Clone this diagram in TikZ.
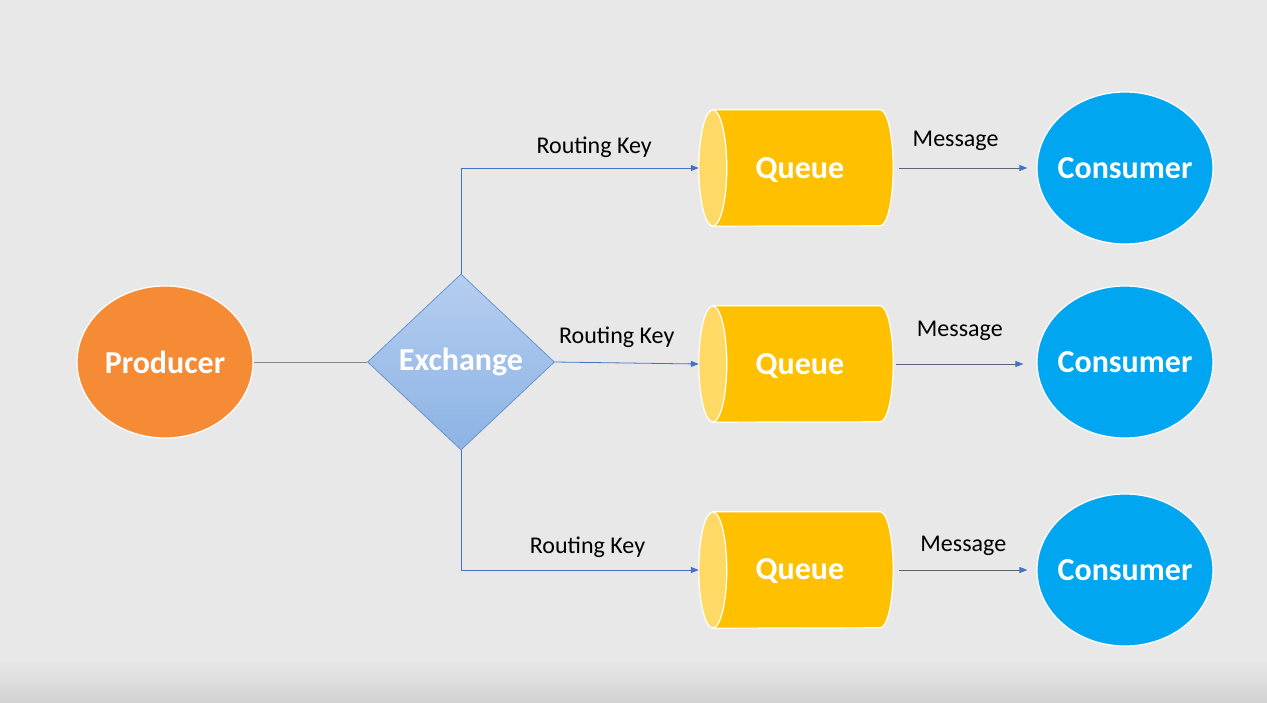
\documentclass[tikz,border=0pt]{standalone}
\usepackage{fontspec}
\setmainfont{Carlito}
\usetikzlibrary{shapes.geometric,arrows.meta}
\definecolor{bg}{HTML}{E8E8E8}
\definecolor{bgdark}{HTML}{D2D2D2}
\definecolor{prodorange}{HTML}{F58B34}
\definecolor{consblue}{HTML}{00A6F0}
\definecolor{qbody}{HTML}{FFC000}
\definecolor{qend}{HTML}{FFD966}
\definecolor{exTop}{HTML}{B5CEF0}
\definecolor{exBot}{HTML}{8CB3E4}
\definecolor{exBorder}{HTML}{6A93CF}
\definecolor{linkblue}{HTML}{4472C4}
\definecolor{msgline}{HTML}{5A6478}
\definecolor{plainline}{HTML}{7F8A9A}
\tikzset{
  bigtext/.style={text=white,font=\bfseries\fontsize{32}{38}\selectfont},
  smalltext/.style={text=black,font=\fontsize{24}{29}\selectfont},
  ellnode/.style={ellipse,draw=white,line width=1.2pt,minimum width=176pt,minimum height=152pt,inner sep=0pt,bigtext},
  qnode/.style={rectangle,minimum width=194pt,minimum height=116pt,inner sep=0pt},
  route/.style={draw=linkblue,line width=0.8pt,-{Triangle[length=8pt,width=6pt]}},
  msg/.style={draw=msgline,line width=0.8pt,-{Triangle[length=8pt,width=6pt,color=linkblue]}},
}
\newcommand{\queueshape}[1]{%
  \fill[qbody,draw=white,line width=1.2pt]
    ([xshift=14pt]#1.north west) -- ([xshift=-13pt]#1.north east)
    arc[start angle=90,end angle=-90,x radius=13pt,y radius=58pt]
    -- ([xshift=14pt]#1.south west) -- cycle;
  \fill[qend,draw=white,line width=1.2pt] ([xshift=14pt]#1.west) ellipse[x radius=14pt,y radius=58pt];
}
\begin{document}
\begin{tikzpicture}[x=1pt,y=-1pt]
\fill[bg] (0,0) rectangle (1267,702);
\shade[top color=bg,bottom color=bgdark] (0,660) rectangle (1267,702);
\useasboundingbox (0,0) rectangle (1267,702);

% nodes
\node[ellnode,fill=prodorange] (prod) at (165,362) {\makebox[0pt]{Producer}};
\node[diamond,minimum width=187pt,minimum height=176pt,inner sep=0pt,
      top color=exTop,bottom color=exBot,draw=exBorder,line width=0.8pt,bigtext] (ex) at (461,362) {\makebox[0pt]{Exchange}};

\node[qnode] (q1) at (796,168) {};
\node[qnode] (q2) at (796,364) {};
\node[qnode] (q3) at (796,570) {};
\queueshape{q1}
\queueshape{q2}
\queueshape{q3}
\node[bigtext] (t1) at (800,170) {Queue};
\node[bigtext] (t2) at (800,366) {Queue};
\node[bigtext] (t3) at (800,571) {Queue};

\node[ellnode,fill=consblue] (c1) at (1125,168) {\makebox[0pt]{Consumer}};
\node[ellnode,fill=consblue] (c2) at (1125,362) {\makebox[0pt]{Consumer}};
\node[ellnode,fill=consblue] (c3) at (1125,570) {\makebox[0pt]{Consumer}};

% connectors
\draw[plainline,line width=0.8pt] (prod.east) -- (ex.west);
\draw[route] (ex.north) |- (q1.west) node[pos=0.78,above=7pt,smalltext] {Routing Key};
\draw[route] (ex.east) -- (q2.west) node[pos=0.43,above=12pt,smalltext] {Routing Key};
\draw[route] (ex.south) |- (q3.west) node[pos=0.766,above=9pt,smalltext] {Routing Key};

\draw[msg] ([xshift=6pt]q1.east) -- ([xshift=-9pt]c1.west |- q1.east) node[pos=0.44,above=14pt,smalltext] {Message};
\draw[msg] ([xshift=3pt]q2.east) -- ([xshift=-13pt]c2.west |- q2.east) node[pos=0.50,above=20pt,smalltext] {Message};
\draw[msg] ([xshift=6pt]q3.east) -- ([xshift=-9pt]c3.west |- q3.east) node[pos=0.50,above=11pt,smalltext] {Message};
\end{tikzpicture}
\end{document}
